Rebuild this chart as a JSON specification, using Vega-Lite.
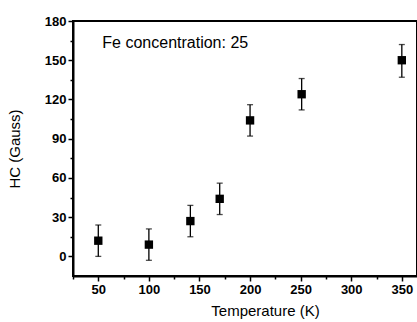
{
  "$schema": "https://vega.github.io/schema/vega-lite/v6.json",
  "width": 344,
  "height": 255,
  "autosize": "none",
  "padding": {"left": 73, "top": 21, "right": 0, "bottom": 46},
  "background": "white",
  "config": {
    "view": {"stroke": "black", "strokeWidth": 2},
    "font": "Liberation Sans",
    "axis": {
      "domainColor": "black", "domainWidth": 2, "tickColor": "black", "tickWidth": 1.5,
      "labelColor": "black", "labelFont": "Liberation Sans", "labelFontSize": 13, "labelFontWeight": "bold",
      "titleColor": "black", "titleFont": "Liberation Sans", "titleFontSize": 15, "titleFontWeight": "normal",
      "grid": false
    }
  },
  "data": {"values": [
    {"t": 50, "h": 12, "lo": 0, "hi": 24},
    {"t": 100, "h": 9, "lo": -3, "hi": 21},
    {"t": 141, "h": 27, "lo": 15, "hi": 39},
    {"t": 170, "h": 44, "lo": 32, "hi": 56},
    {"t": 200, "h": 104, "lo": 92, "hi": 116},
    {"t": 251, "h": 124, "lo": 112, "hi": 136},
    {"t": 350, "h": 150, "lo": 137, "hi": 162}
  ]},
  "encoding": {
    "x": {"field": "t", "type": "quantitative", "scale": {"domain": [25, 365], "nice": false, "zero": false},
      "axis": {"title": "Temperature (K)", "values": [25,50,75,100,125,150,175,200,225,250,275,300,325,350],
        "labelExpr": "datum.value % 50 === 0 ? datum.label : ''",
        "tickSize": {"condition": {"test": "datum.value % 50 !== 0", "value": 3}, "value": 5},
        "labelPadding": 2, "titlePadding": 7, "titleX": 192, "titleAlign": "center"}},
    "y": {"field": "h", "type": "quantitative", "scale": {"domain": [-15, 180], "nice": false, "zero": false},
      "axis": {"title": "HC (Gauss)", "values": [0,15,30,45,60,75,90,105,120,135,150,165,180],
        "labelExpr": "datum.value % 30 === 0 ? datum.label : ''",
        "tickSize": {"condition": {"test": "datum.value % 30 !== 0", "value": 3}, "value": 5},
        "labelPadding": 2, "titlePadding": 22}}
  },
  "layer": [
    {"mark": {"type": "rule", "color": "black", "strokeWidth": 1.3},
     "encoding": {"y": {"field": "lo", "type": "quantitative"}, "y2": {"field": "hi"}}},
    {"mark": {"type": "tick", "color": "black", "orient": "horizontal", "size": 6, "thickness": 1.3},
     "encoding": {"y": {"field": "lo", "type": "quantitative"}}},
    {"mark": {"type": "tick", "color": "black", "orient": "horizontal", "size": 6, "thickness": 1.3},
     "encoding": {"y": {"field": "hi", "type": "quantitative"}}},
    {"mark": {"type": "point", "shape": "square", "filled": true, "color": "black", "size": 70, "opacity": 1}},
    {"data": {"values": [{"t": 54, "h": 163.5, "label": "Fe concentration: 25"}]},
     "mark": {"type": "text", "align": "left", "baseline": "middle", "fontSize": 16, "font": "Liberation Sans", "color": "black"},
     "encoding": {"text": {"field": "label"}}}
  ]
}
